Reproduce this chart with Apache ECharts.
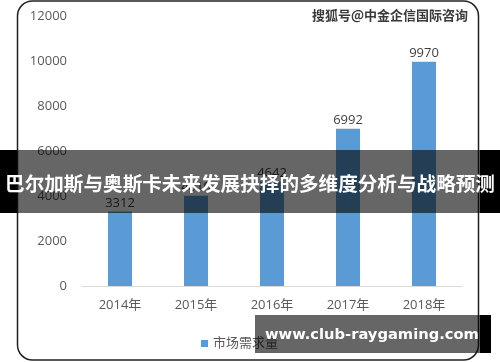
<!DOCTYPE html>
<html><head><meta charset="utf-8">
<script src="https://cdn.jsdelivr.net/npm/echarts@6/dist/echarts.min.js"></script>
<style>html,body{margin:0;padding:0;background:#fff;}#c{width:500px;height:362px;}</style>
</head><body><div id="c"></div>
<script>
var categories = ['2014年','2015年','2016年','2017年','2018年'];
var values = [3312, 4010, 4642, 6992, 9970];
var seriesName = '市场需求量';
var yTicks = [0, 2000, 4000, 6000, 8000, 10000, 12000];
var titleText = '巴尔加斯与奥斯卡未来发展抉择的多维度分析与战略预测';
var watermark = '搜狐号@中金企信国际咨询';
var siteText = 'www.club-raygaming.com';

var chart = echarts.init(document.getElementById('c'), null, {renderer:'canvas'});
var font = '"Open Sans", "Noto Sans CJK SC", sans-serif';
chart.setOption({
  animation: false,
  backgroundColor: '#fff',
  grid: {left: 82, right: 38, top: 16, bottom: 76, containLabel: false},
  legend: {
    data: [seriesName], left: 196, top: 332, icon: 'rect', itemWidth: 7, itemHeight: 7, itemGap: 4,
    textStyle: {color: '#595959', fontSize: 13, fontFamily: font}
  },
  xAxis: {
    type: 'category', data: categories,
    axisLine: {lineStyle: {color: '#d9d9d9', width: 1}},
    axisTick: {show: false},
    axisLabel: {color: '#595959', fontSize: 13, fontFamily: font, margin: 13}
  },
  yAxis: {
    type: 'value', min: yTicks[0], max: yTicks[yTicks.length-1], interval: 2000,
    axisLine: {show: false}, axisTick: {show: false}, splitLine: {show: false},
    axisLabel: {color: '#595959', fontSize: 13, fontFamily: font, margin: 15, formatter: function(v){ return String(v); }}
  },
  series: [{
    name: seriesName, type: 'bar', data: values, barWidth: 24,
    itemStyle: {color: '#5B9BD5'},
    label: {show: true, position: 'top', distance: 2, color: '#404040', fontSize: 13, fontFamily: font}
  }],
  graphic: [
    {type: 'rect', z: 100, shape: {x: 17.5, y: 1, width: 461, height: 359, r: 15}, style: {fill: 'none', stroke: '#222', lineWidth: 1.5}},
    {type: 'text', z: 100, x: 468, y: 15, style: {text: watermark, align: 'right', verticalAlign: 'middle', fill: '#3a3a3a', font: 'bold 13px "Noto Sans CJK SC", sans-serif'}},
    {type: 'rect', z: 110, shape: {x: 0, y: 150, width: 500, height: 63}, style: {fill: 'rgba(0,0,0,0.6)'}},
    {type: 'rect', z: 111, shape: {x: 0, y: 150, width: 17, height: 63}, style: {fill: '#000'}},
    {type: 'rect', z: 111, shape: {x: 480, y: 150, width: 20, height: 63}, style: {fill: '#000'}},
    {type: 'text', z: 112, x: 250, y: 184, style: {text: titleText, align: 'center', verticalAlign: 'middle', fill: '#fff', font: 'bold 19.6px "Noto Sans CJK SC", sans-serif'}},
    {type: 'rect', z: 110, shape: {x: 255, y: 315, width: 225, height: 38}, style: {fill: 'rgba(0,0,0,0.6)'}},
    {type: 'rect', z: 111, shape: {x: 480, y: 315, width: 11, height: 38}, style: {fill: '#000'}},
    {type: 'text', z: 112, x: 265, y: 335, style: {text: siteText, align: 'left', verticalAlign: 'middle', fill: '#fff', font: 'bold 14.7px "DejaVu Sans", sans-serif'}}
  ]
});
</script></body></html>
